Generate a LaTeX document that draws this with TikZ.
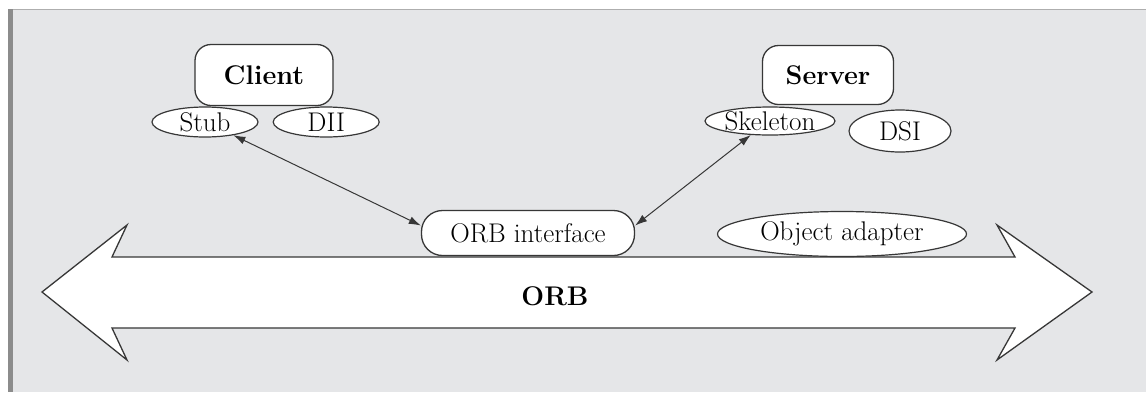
\documentclass[tikz,border=0pt]{standalone}
\usetikzlibrary{arrows.meta,positioning,shapes.geometric}
\definecolor{panelgray}{RGB}{229,230,232}
\definecolor{rimgray}{RGB}{140,140,140}
\definecolor{inkgray}{RGB}{55,55,55}

\begin{document}
\begin{tikzpicture}[x=1pt,y=-1pt,every node/.style={font=\fontsize{27}{32}\selectfont}]
  \tikzstyle{box}=[draw=inkgray,line width=1.3pt,rounded corners=16pt,fill=white,
    inner sep=0pt,align=center,text=black]
  \tikzstyle{oval}=[ellipse,draw=inkgray,line width=1.2pt,fill=white,inner sep=0pt,text=black]
  \tikzstyle{link}=[{Latex[length=12pt,width=8pt]}-{Latex[length=12pt,width=8pt]},inkgray,line width=1pt]
  \useasboundingbox (0,0) rectangle (1146,392);
  \fill[panelgray] (10,9) rectangle (1146,392);
  \draw[rimgray!70,line width=1.5pt] (10,9.5) -- (1146,9.5);
  \fill[rimgray] (8,9) rectangle (13,392);
  % ORB bus
  \draw[inkgray,line width=1.3pt,fill=white,line join=miter]
    (42,292) -- (127,225) -- (112,257) -- (1015,257) -- (997,225) -- (1092,292)
    -- (997,360) -- (1015,328) -- (112,328) -- (127,360) -- cycle;
  \node[font=\fontsize{27}{32}\selectfont\bfseries] (orb) at (555,296) {ORB};
  % client side
  \node[box,minimum width=138pt,minimum height=61pt,font=\fontsize{27}{32}\selectfont\bfseries] (client) at (264,75) {Client};
  \node[oval,minimum width=106pt,minimum height=30pt] (stub) at (205,122) {Stub};
  \node[oval,minimum width=106pt,minimum height=30pt,right=14pt of stub] (dii) {DII};
  % server side
  \node[box,minimum width=131pt,minimum height=59pt,font=\fontsize{27}{32}\selectfont\bfseries] (server) at (828,75) {Server};
  \node[oval,minimum width=130pt,minimum height=28pt] (skel) at (770,121) {Skeleton};
  \node[oval,minimum width=102pt,minimum height=42pt] (dsi) at (900,131) {DSI};
  % on the bus
  \node[box,rounded corners=21pt,minimum width=213pt,minimum height=45pt] (orbif) at (528,233) {ORB interface};
  \node[oval,minimum width=249pt,minimum height=45pt] (adapter) at (842,234) {Object adapter};
  \draw[link] (stub.-25) -- (orbif.176);
  \draw[link] (skel.-144) -- (orbif.4);
\end{tikzpicture}
\end{document}
